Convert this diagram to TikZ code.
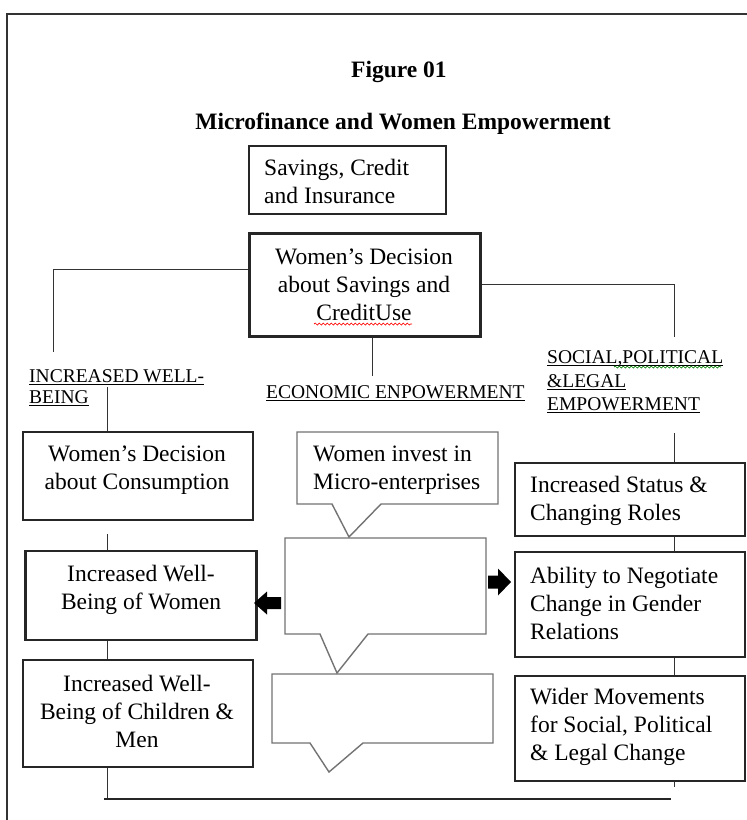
\documentclass[tikz,border=0pt]{standalone}
\usepackage{fontspec}
\setmainfont{Liberation Serif}
\usetikzlibrary{decorations.pathmorphing}
\newcommand\myul[1]{\underline{\raisebox{0pt}[\height][0pt]{#1}}}
\begin{document}
\begin{tikzpicture}[x=1pt,y=-1pt,
  box/.style={draw=black!85, line width=2.4pt, inner sep=0pt},
  txt/.style={inner sep=0pt, font=\fontsize{23.5}{28}\selectfont},
  ttl/.style={inner sep=0pt, font=\fontsize{23.5}{28}\selectfont\bfseries},
  lab/.style={inner sep=0pt, align=left, font=\fontsize{19.5}{21}\selectfont},
  conn/.style={draw=black!80, line width=1pt},
  callout/.style={draw=black!55, line width=1.4pt},
  blockarrow/.style={fill=black},
  squig/.style={line width=0.7pt, decorate, decoration={snake, amplitude=1pt, segment length=4pt}}
]
\fill[white] (0,0) rectangle (747,820);
\useasboundingbox (0,0) rectangle (747,820);
% frame
\draw[line width=1.5pt, black!80] (7,820) -- (7,14) -- (747,14);

% titles
\node[ttl] (fig) at (399,72) {Figure 01};
\node[ttl] (title) at (403,124) {Microfinance and Women Empowerment};

% top boxes
\node[box, line width=1.4pt, minimum width=197, minimum height=68] (sav) at (347.5,180) {};
\node[txt, anchor=west, align=left] (savt) at (264,181.5) {Savings, Credit\\and Insurance};
\node[box, line width=3pt, minimum width=231, minimum height=103] (dec) at (364.5,284.5) {};
\node[txt, align=center] (dect) at (364,285) {Women’s Decision\\about Savings and\\CreditUse};
\draw[squig, red] (314,324) -- (412,324);

% labels
\node[lab, anchor=west] (lwb) at (29,388) {\myul{INCREASED WELL-}\\\myul{BEING}};
\node[lab, anchor=west] (lec) at (266,393) {\myul{ECONOMIC ENPOWERMENT}};
\node[lab, anchor=west, font=\fontsize{19.5}{23.5}\selectfont] (lso) at (547,382) {\myul{SOCIAL,POLITICAL}\\\myul{\&LEGAL}\\\myul{EMPOWERMENT}};
\draw[squig, green!50!black] (614,367) -- (721,367);

% left column
\node[box, minimum width=230, minimum height=88] (con) at (138,476) {};
\node[txt, align=center] (cont) at (137,470) {Women’s Decision\\about Consumption};
\node[box, minimum width=231, minimum height=89] (wbw) at (141,595.5) {};
\node[txt, align=center] (wbwt) at (141,589.5) {Increased Well-\\Being of Women};
\node[box, minimum width=230, minimum height=107] (wbc) at (138,713.5) {};
\node[txt, align=center] (wbct) at (137,711) {Increased Well-\\Being of Children \&\\Men};

% right column
\node[box, minimum width=230, minimum height=73] (sta) at (630,499.5) {};
\node[txt, anchor=west, align=left] (stat) at (530,500.5) {Increased Status \&\\Changing Roles};
\node[box, minimum width=230, minimum height=105] (abi) at (630,604.5) {};
\node[txt, anchor=west, align=left] (abit) at (530,603.7) {Ability to Negotiate\\Change in Gender\\Relations};
\node[box, minimum width=230, minimum height=105] (wid) at (630,728.5) {};
\node[txt, anchor=west, align=left] (widt) at (530,726.5) {Wider Movements\\for Social, Political\\\& Legal Change};

% callouts
\draw[callout] (297,432) -- (498,432) -- (498,504) -- (381,504) -- (349,537) -- (332,504) -- (297,504) -- cycle;
\node[txt, anchor=west, align=left] (inv) at (313,470) {Women invest in\\Micro-enterprises};
\draw[callout] (285,538) -- (486,538) -- (486,634) -- (368,634) -- (337,673) -- (320,634) -- (285,634) -- cycle;
\draw[callout] (272,674) -- (493,674) -- (493,743) -- (363,743) -- (329,772) -- (310,743) -- (272,743) -- cycle;

% block arrows
\coordinate (midW) at (281,603);
\coordinate (midE) at (488,582);
\fill[blockarrow] (281,597) -- (267,597) -- (267,591.5) -- (254,603) -- (267,614.5) -- (267,609) -- (281,609) -- cycle;
\fill[blockarrow] (488,575.5) -- (498,575.5) -- (498,568.5) -- (511,582) -- (498,595.5) -- (498,588.5) -- (488,588.5) -- cycle;

% connectors from central box
\coordinate (lt) at (53,352);
\draw[conn] ([yshift=15.5pt]dec.west) -| (lt);
\coordinate (rt) at (674,337);
\draw[conn] (dec.east) -| (rt);
\coordinate (mt) at (372,376);
\draw[conn] (mt |- dec.south) -- (mt);

% left column connectors
\coordinate (lv) at (107,387);
\draw[conn] (lv) -- (lv |- con.north);
\coordinate (c1) at (107,534);
\draw[conn] (c1) -- (c1 |- wbw.north);
\draw[conn] (c1 |- wbw.south) -- (c1 |- wbc.north);
\coordinate (bl) at (107,799);
\coordinate (br) at (671,799);
\draw[conn] (bl |- wbc.south) -- (bl);
\draw[line width=2.5pt, black!85] ([xshift=-3pt]bl) -- (br);

% right column connectors
\coordinate (r0) at (674,433);
\draw[conn] (r0) -- (r0 |- sta.north);
\draw[conn] (r0 |- sta.south) -- (r0 |- abi.north);
\draw[conn] (r0 |- abi.south) -- (r0 |- wid.north);
\coordinate (r9) at (674,787);
\draw[conn] (r0 |- wid.south) -- (r9);
\end{tikzpicture}
\end{document}
